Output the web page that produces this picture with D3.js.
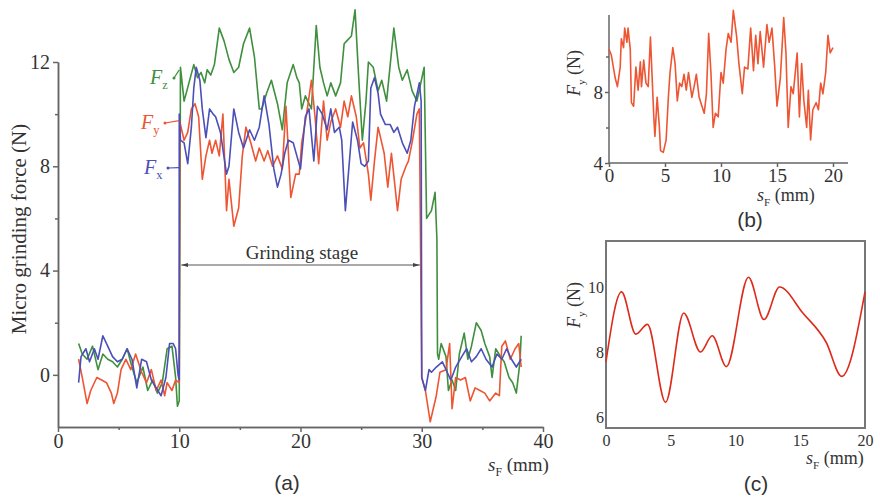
<!DOCTYPE html>
<html lang="en">
<head>
<meta charset="UTF-8" />
<title>Micro grinding force</title>
<style>
  body { margin: 0; background: #fff; overflow: hidden; }
  svg { display: block; }
  text { font-family: "Liberation Serif", "Times New Roman", serif; fill: #333; }
  .axis path, .axis line { stroke: #666; stroke-width: 1.5px; }
  .axis text { font-family: "Liberation Serif", serif; fill: #333; }
  .tag { font-family: "Liberation Sans", Arial, sans-serif; font-size: 21px; fill: #333; }
  .trace { fill: none; stroke-width: 1.6px; stroke-linejoin: round; }
</style>
</head>
<body>
<svg id="chart" width="880" height="499"></svg>
<script src="https://d3js.org/d3.v7.min.js"></script>
<script>
// (a) force vs feed distance, [sF mm, force N]
const fzData = [[1.7,1.2],[2.0,0.8],[2.4,0.6],[2.85,1.1],[3.3,0.2],[3.7,0.8],[4.1,0.6],[4.5,0.5],[4.9,0.3],[5.3,0.6],[5.7,1.0],[6.1,0.3],[6.5,-0.3],[7.0,0.3],[7.4,-0.6],[7.8,-0.2],[8.2,-0.7],[8.6,-0.3],[9.0,1.0],[9.4,1.1],[9.7,-0.1],[9.85,-1.2],[10.0,-1.0],
  [10.1,11.8],[10.4,10.5],[10.8,11.2],[11.2,11.9],[11.5,11.4],[11.8,11.6],[12.1,11.2],[12.3,11.7],[12.6,11.5],[12.9,11.9],[13.3,13.3],[13.7,12.8],[14.1,12.1],[14.5,11.6],[14.9,11.8],[15.3,12.7],[15.8,13.3],[16.2,12.2],[16.6,10.2],[16.8,10.2],[17.2,10.8],[17.6,11.3],[18.1,10.4],[18.5,9.4],[18.9,11.2],[19.4,11.9],[19.7,11.4],[19.9,11.2],[20.1,10.2],[20.4,10.7],[20.9,10.2],[21.3,13.4],[21.6,11.8],[21.9,11.2],[22.2,10.7],[22.5,11.2],[22.9,10.7],[23.3,11.2],[23.6,12.7],[23.8,12.8],[24.2,13.0],[24.5,14.0],[24.8,11.4],[25.1,9.0],[25.4,10.5],[25.6,12.0],[26.0,11.8],[26.4,10.9],[26.7,11.3],[27.1,10.5],[27.7,13.3],[28.1,11.8],[28.4,11.3],[28.8,11.7],[29.2,10.9],[29.6,10.5],[30.2,11.8],
  [30.4,6.0],[30.8,6.3],[31.1,7.0],[31.25,5.2],[31.3,0.8],
  [31.4,0.6],[31.6,1.2],[32.0,0.7],[32.2,-0.6],[32.5,-0.2],[32.8,-0.6],[33.1,0.8],[33.5,1.6],[33.8,0.6],[34.1,1.1],[34.5,2.0],[34.9,1.7],[35.2,1.2],[35.6,0.7],[35.8,-0.1],[36.1,1.0],[36.5,0.7],[36.8,0.5],[37.2,-0.1],[37.5,-0.3],[37.8,-0.7],[38.1,0.5],[38.2,1.5]];

const fyData = [[1.7,0.6],[2.0,-0.1],[2.4,-1.1],[2.7,-0.6],[3.2,-0.1],[3.6,-0.2],[4.0,-0.3],[4.4,-0.7],[4.6,-1.1],[4.9,-0.7],[5.2,0.2],[5.6,0.6],[6.0,0.2],[6.4,0.8],[6.9,0.1],[7.3,-0.3],[7.7,0.2],[8.1,-0.6],[8.5,-0.2],[8.8,-0.8],[9.0,-0.3],[9.4,-0.6],[9.7,-0.2],[10.0,-0.3],
  [10.05,9.7],[10.4,9.0],[10.7,9.3],[11.0,10.2],[11.3,10.4],[11.6,9.9],[11.9,7.5],[12.2,8.4],[12.5,9.0],[12.7,8.5],[13.0,9.0],[13.3,8.4],[13.6,10.0],[13.9,6.3],[14.1,7.5],[14.5,5.7],[14.9,6.4],[15.2,8.4],[15.5,9.5],[15.9,8.9],[16.3,8.2],[16.6,8.7],[17.0,8.2],[17.3,8.6],[17.7,8.0],[18.1,8.4],[18.5,7.9],[18.8,10.3],[19.2,6.8],[19.6,7.7],[19.9,7.7],[20.1,8.9],[20.5,10.0],[20.9,11.3],[21.2,9.9],[21.5,8.1],[21.9,10.5],[22.2,9.0],[22.5,9.7],[22.9,10.2],[23.3,9.5],[23.6,10.5],[23.9,9.9],[24.2,10.7],[24.6,9.9],[24.9,8.7],[25.2,8.9],[25.6,7.7],[25.8,6.7],[26.1,8.2],[26.4,9.5],[26.6,9.1],[26.9,8.5],[27.2,7.2],[27.5,8.5],[27.8,7.2],[28.0,6.3],[28.3,7.5],[28.7,8.0],[28.9,8.2],[29.2,8.9],[29.6,10.0],[29.8,10.2],[30.0,-0.1],
  [30.3,-0.6],[30.7,-1.8],[31.2,-0.8],[31.5,0.1],[32.0,0.2],[32.3,1.2],[32.5,-1.3],[32.8,-0.1],[33.2,-0.2],[33.6,-0.1],[34.0,-1.0],[34.4,-0.5],[34.8,-0.6],[35.2,-0.7],[35.6,-1.0],[36.1,-0.7],[36.4,-0.8],[36.6,1.1],[36.9,1.3],[37.3,0.6],[37.7,1.0],[38.0,1.2],[38.2,0.3]];

const fxData = [[1.7,-0.3],[1.9,0.7],[2.3,1.0],[2.6,0.5],[3.0,1.0],[3.3,0.6],[3.7,1.5],[4.1,1.1],[4.5,0.7],[4.9,0.5],[5.3,0.6],[5.7,1.0],[6.1,0.6],[6.5,-0.5],[6.9,0.6],[7.3,0.5],[7.7,-0.2],[8.1,-0.5],[8.5,-0.8],[8.9,-0.1],[9.2,1.2],[9.5,1.2],[9.7,1.0],[9.9,0.0],[10.0,-0.2],
  [10.0,10.0],[10.1,9.0],[10.4,8.9],[10.7,8.1],[11.0,9.5],[11.2,11.0],[11.4,11.8],[11.7,11.3],[11.9,10.2],[12.2,9.1],[12.5,10.2],[12.8,10.0],[13.0,9.9],[13.4,9.3],[13.9,7.7],[14.1,8.0],[14.5,10.2],[14.9,9.3],[15.3,8.7],[15.8,9.4],[16.2,9.0],[16.6,9.5],[17.0,10.7],[17.4,9.6],[17.8,7.9],[18.1,7.2],[18.4,7.7],[18.7,8.5],[19.0,9.0],[19.4,8.9],[19.7,8.4],[20.0,7.9],[20.4,9.9],[20.7,10.2],[21.1,8.2],[21.4,10.3],[21.8,10.0],[22.2,9.4],[22.5,10.2],[22.8,9.3],[23.2,9.5],[23.4,9.0],[23.7,6.3],[24.0,8.0],[24.3,9.7],[24.7,9.0],[25.0,8.1],[25.3,8.0],[25.6,8.2],[25.8,11.0],[26.1,11.4],[26.4,10.8],[26.6,10.0],[27.0,9.6],[27.4,9.6],[27.7,9.3],[28.0,9.5],[28.4,8.9],[28.8,8.5],[29.1,9.0],[29.4,10.3],[29.8,11.2],[29.95,10.5],[30.0,-0.1],
  [30.3,-0.6],[30.6,0.2],[30.8,0.1],[31.2,0.3],[31.7,0.5],[32.1,0.1],[32.4,-0.2],[32.8,0.3],[33.3,0.7],[33.7,1.0],[34.1,0.5],[34.5,0.7],[34.9,1.0],[35.3,0.6],[35.8,0.3],[36.2,0.8],[36.6,0.6],[37.0,1.0],[37.4,0.6],[37.8,0.3],[38.2,0.6]];

// (b) Fy during grinding stage, raw
const fyRaw = [[0,10.4],[0.2,10.1],[0.55,8.8],[0.75,8.3],[1.0,9.4],[1.1,11.0],[1.3,10.5],[1.4,11.6],[1.6,10.8],[1.7,11.6],[1.9,10.4],[2.0,7.4],[2.2,7.2],[2.4,9.4],[2.6,8.1],[2.8,9.7],[2.9,8.3],[3.1,9.8],[3.3,8.5],[3.5,8.3],[3.7,11.1],[4.0,6.6],[4.1,5.5],[4.3,7.7],[4.5,6.0],[4.6,4.7],[4.85,4.6],[5.1,5.3],[5.3,7.7],[5.45,9.1],[5.7,10.5],[5.9,9.6],[6.1,7.5],[6.3,8.5],[6.5,8.3],[6.7,9.0],[6.9,8.1],[7.1,9.1],[7.4,7.7],[7.6,8.3],[7.8,9.0],[8.05,7.7],[8.3,7.2],[8.5,6.8],[8.7,7.9],[8.9,11.3],[9.1,9.1],[9.3,6.0],[9.5,6.8],[9.75,6.6],[10.0,9.1],[10.2,8.5],[10.45,10.4],[10.65,11.3],[10.9,10.8],[11.1,12.6],[11.4,11.1],[11.6,9.6],[11.9,7.9],[12.1,9.4],[12.4,9.3],[12.65,11.6],[12.9,9.2],[13.1,11.2],[13.3,9.6],[13.5,11.4],[13.8,9.4],[14.1,11.8],[14.3,10.8],[14.55,11.6],[14.8,9.4],[15.0,7.2],[15.3,8.8],[15.6,12.2],[15.8,10.2],[16.0,6.0],[16.25,8.3],[16.45,7.9],[16.8,10.2],[17.0,6.6],[17.2,9.6],[17.4,7.5],[17.65,6.0],[17.8,8.1],[18.0,5.3],[18.2,7.0],[18.5,7.4],[18.7,7.0],[18.9,8.5],[19.1,7.9],[19.35,9.1],[19.55,11.2],[19.75,10.2],[20.0,10.5]];

// (c) Fy, filtered
const fySmooth = [[0,7.7],[1.2,9.85],[2.3,8.55],[3.2,8.85],[4.6,6.45],[6.0,9.2],[7.3,8.0],[8.2,8.5],[9.3,7.55],[11.0,10.3],[12.2,9.0],[13.4,10.0],[15.2,9.2],[17.0,8.3],[18.2,7.25],[20,9.85]];

const ticksA_x = [0, 10, 20, 30, 40], minorA_x = [5, 15, 25, 35];
const ticksA_y = [0, 4, 8, 12], minorA_y = [2, 6, 10];
const ticksB_x = [0, 5, 10, 15, 20];
const ticksB_y = [4, 8], minorB_y = [6, 10];
const ticksC_x = [0, 5, 10, 15, 20];
const ticksC_y = [6, 8, 10];

const colors = { fz: "#3f8f3f", fy: "#ee5533", fx: "#4b4fb8", smooth: "#dd2a1a" };
const fmt = d3.format("d");

const svg = d3.select("#chart");

function addAxis(g, axis, size) {
  g.attr("class", "axis").call(axis);
  g.selectAll("text").style("font-size", size + "px");
}

function subLabel(parent, x, y, main, sub, rest, size, color, anchor) {
  const t = parent.append("text").attr("x", x).attr("y", y)
    .attr("text-anchor", anchor || "start")
    .style("font-size", size + "px").style("fill", color || "#333");
  t.append("tspan").style("font-style", "italic").text(main);
  t.append("tspan").attr("dy", size * 0.25).style("font-size", (size * 0.62) + "px").text(sub);
  if (rest) t.append("tspan").attr("dy", -size * 0.25).text(rest);
  return t;
}

// ---------- panel (a) ----------
const xA = d3.scaleLinear().domain([0, 40]).range([58, 543]);
const yA = d3.scaleLinear().domain([-2, 12]).range([427, 62]);

const gA = svg.append("g");
addAxis(gA.append("g").attr("transform", "translate(0,427)"),
  d3.axisBottom(xA).tickValues(ticksA_x).tickSize(5).tickSizeOuter(0).tickPadding(2).tickFormat(fmt), 20);
addAxis(gA.append("g").attr("transform", "translate(0,427)"),
  d3.axisBottom(xA).tickValues(minorA_x).tickSize(3).tickSizeOuter(0).tickFormat(""), 20);
addAxis(gA.append("g").attr("transform", "translate(58,0)"),
  d3.axisLeft(yA).tickValues(ticksA_y).tickSize(5).tickSizeOuter(0).tickPadding(3).tickFormat(fmt), 20);
addAxis(gA.append("g").attr("transform", "translate(58,0)"),
  d3.axisLeft(yA).tickValues(minorA_y).tickSize(3).tickSizeOuter(0).tickFormat(""), 20);

const lineA = d3.line().x(d => xA(d[0])).y(d => yA(d[1]));
gA.append("path").datum(fzData).attr("class", "trace").attr("stroke", colors.fz).attr("d", lineA);
gA.append("path").datum(fyData).attr("class", "trace").attr("stroke", colors.fy).attr("d", lineA);
gA.append("path").datum(fxData).attr("class", "trace").attr("stroke", colors.fx).attr("d", lineA);

gA.append("text").attr("transform", "translate(26,229) rotate(-90)")
  .attr("text-anchor", "middle").style("font-size", "21px").text("Micro grinding force (N)");
subLabel(gA, 488, 471, "s", "F", " (mm)", 19);
gA.append("text").attr("class", "tag").attr("x", 287).attr("y", 490).attr("text-anchor", "middle").text("(a)");

// series labels with short leaders
const seriesLabels = [
  { sub: "z", color: colors.fz, x: 150, y: 84, v: 11.7 },
  { sub: "y", color: colors.fy, x: 141, y: 129, v: 9.75 },
  { sub: "x", color: colors.fx, x: 144, y: 174, v: 7.95 }
];
seriesLabels.forEach(s => {
  subLabel(gA, s.x, s.y, "F", s.sub, null, 20, s.color);
  gA.append("line").attr("x1", s.x + 24).attr("x2", xA(10)).attr("y1", s.y - 6).attr("y2", yA(s.v))
    .attr("stroke", s.color).attr("stroke-width", 1.2);
  gA.append("circle").attr("cx", s.x + 24).attr("cy", s.y - 6).attr("r", 1.5).attr("fill", s.color);
});

// grinding stage arrow
const arrowY = 265;
svg.append("defs").selectAll("marker").data(["start", "end"]).join("marker")
  .attr("id", d => "arr-" + d).attr("viewBox", "0 0 10 10").attr("refX", d => d === "end" ? 10 : 0).attr("refY", 5)
  .attr("markerWidth", 7).attr("markerHeight", 7).attr("orient", "auto")
  .append("path").attr("d", d => d === "end" ? "M0,2L10,5L0,8Z" : "M10,2L0,5L10,8Z").attr("fill", "#444");
gA.append("line").attr("x1", xA(10) + 2).attr("x2", xA(30) - 2).attr("y1", arrowY).attr("y2", arrowY)
  .attr("stroke", "#555").attr("stroke-width", 1)
  .attr("marker-start", "url(#arr-start)").attr("marker-end", "url(#arr-end)");
gA.append("text").attr("x", 302).attr("y", arrowY - 6).attr("text-anchor", "middle")
  .style("font-size", "19px").text("Grinding stage");

// ---------- panel (b) ----------
const xB = d3.scaleLinear().domain([0, 20]).range([609, 833]);
const yB = d3.scaleLinear().domain([4, 8]).range([163, 92]);
const gB = svg.append("g");
gB.append("line").attr("x1", 609).attr("x2", 848).attr("y1", 163).attr("y2", 163).attr("stroke", "#666").attr("stroke-width", 1.5);
gB.append("line").attr("x1", 609).attr("x2", 609).attr("y1", 15).attr("y2", 163).attr("stroke", "#666").attr("stroke-width", 1.5);
addAxis(gB.append("g").attr("transform", "translate(0,163)"),
  d3.axisBottom(xB).tickValues(ticksB_x).tickSize(4).tickSizeOuter(0).tickPadding(2).tickFormat(fmt), 19);
addAxis(gB.append("g").attr("transform", "translate(609,0)"),
  d3.axisLeft(yB).tickValues(ticksB_y).tickSize(4).tickSizeOuter(0).tickPadding(2).tickFormat(fmt), 19);
addAxis(gB.append("g").attr("transform", "translate(609,0)"),
  d3.axisLeft(yB).tickValues(minorB_y).tickSize(3).tickSizeOuter(0).tickFormat(""), 19);
gB.selectAll(".axis .domain").remove();
gB.append("path").datum(fyRaw).attr("class", "trace").attr("stroke", colors.fy).attr("stroke-width", 1.8)
  .attr("d", d3.line().x(d => xB(d[0])).y(d => yB(d[1])));
subLabel(gB.append("g").attr("transform", "translate(580,96) rotate(-90)"), 0, 0, "F", "y", " (N)", 18);
subLabel(gB, 757, 201, "s", "F", " (mm)", 18);
gB.append("text").attr("class", "tag").attr("x", 750).attr("y", 227).attr("text-anchor", "middle").text("(b)");

// ---------- panel (c) ----------
const xC = d3.scaleLinear().domain([0, 20]).range([606, 865]);
const yC = d3.scaleLinear().domain([6, 10]).range([417, 287]);
const gC = svg.append("g");
gC.append("rect").attr("x", 606).attr("y", 241).attr("width", 259).attr("height", 187)
  .attr("fill", "none").attr("stroke", "#777").attr("stroke-width", 2);
addAxis(gC.append("g").attr("transform", "translate(0,428)"),
  d3.axisBottom(xC).tickValues(ticksC_x).tickSize(0).tickPadding(7).tickFormat(fmt), 16);
addAxis(gC.append("g").attr("transform", "translate(606,0)"),
  d3.axisLeft(yC).tickValues(ticksC_y).tickSize(0).tickPadding(2).tickFormat(fmt), 16);
gC.selectAll(".axis .domain").remove();
gC.append("path").datum(fySmooth).attr("class", "trace").attr("stroke", colors.smooth).attr("stroke-width", 3)
  .attr("d", d3.line().curve(d3.curveMonotoneX).x(d => xC(d[0])).y(d => yC(d[1])));
subLabel(gC.append("g").attr("transform", "translate(580,328) rotate(-90)"), 0, 0, "F", "y", " (N)", 18);
subLabel(gC, 806, 464, "s", "F", " (mm)", 18);
gC.append("text").attr("class", "tag").attr("x", 756).attr("y", 491).attr("text-anchor", "middle").text("(c)");
</script>
</body>
</html>
